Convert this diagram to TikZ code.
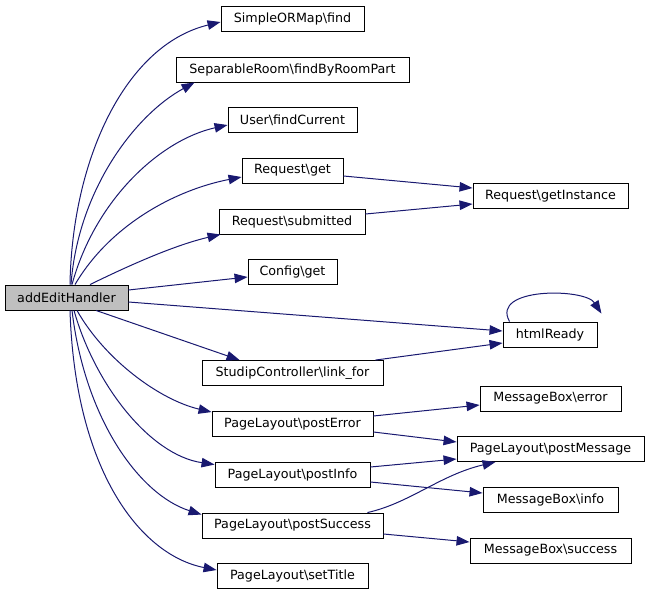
\documentclass[tikz,border=0pt]{standalone}
\usepackage{fontspec}
\setmainfont{DejaVu Sans}
\usetikzlibrary{arrows.meta}
\begin{document}
\begin{tikzpicture}[x=1pt,y=-1pt,
  box/.style={draw=black,line width=0.9pt,fill=white,inner sep=0pt,minimum height=25pt,
    font=\fontsize{12.7}{15}\selectfont},
  mainbox/.style={box,fill=black!25},
  edge/.style={draw={rgb,255:red,25;green,25;blue,112},line width=1pt,
    -{Triangle[length=13pt,width=9.5pt]}}]
\useasboundingbox (0,0) rectangle (649,595);
\node[mainbox,minimum width=123pt] (main) at (66.5,297.5) {addEditHandler};
\node[box,minimum width=143pt] (sorm) at (292.5,18.5) {SimpleORMap\textbackslash find};
\node[box,minimum width=233pt] (sep) at (292.5,69.5) {SeparableRoom\textbackslash findByRoomPart};
\node[box,minimum width=129pt] (user) at (292.5,120) {User\textbackslash findCurrent};
\node[box,minimum width=101pt] (rget) at (292.5,170.5) {Request\textbackslash get};
\node[box,minimum width=146pt] (rsub) at (292,221.5) {Request\textbackslash submitted};
\node[box,minimum width=89pt] (cget) at (292.5,272) {Config\textbackslash get};
\node[box,minimum width=181pt] (link) at (292.5,373) {StudipController\textbackslash link\_for};
\node[box,minimum width=161pt] (perr) at (292.5,424) {PageLayout\textbackslash postError};
\node[box,minimum width=155pt] (pinfo) at (292.5,474.5) {PageLayout\textbackslash postInfo};
\node[box,minimum width=181pt] (psucc) at (292.5,525.5) {PageLayout\textbackslash postSuccess};
\node[box,minimum width=151pt] (ptitle) at (292.5,576) {PageLayout\textbackslash setTitle};
\node[box,minimum width=155pt] (rinst) at (550.5,196) {Request\textbackslash getInstance};
\node[box,minimum width=94pt] (html) at (550,334.5) {htmlReady};
\node[box,minimum width=141pt] (mberr) at (550.5,398.5) {MessageBox\textbackslash error};
\node[box,minimum width=187pt] (pmsg) at (550.5,449) {PageLayout\textbackslash postMessage};
\node[box,minimum width=135pt] (mbinfo) at (550.5,500) {MessageBox\textbackslash info};
\node[box,minimum width=161pt] (mbsucc) at (550.5,550.5) {MessageBox\textbackslash success};
% fan-out from main
\path[edge] ([xshift=3.5pt]main.north) .. controls (72,160) and (125,45) .. ([yshift=-3.5pt]sorm.west);
\path[edge] ([xshift=4.5pt]main.north) .. controls (78,190) and (135,115) .. ([xshift=19pt]sep.south west);
\path[edge] ([xshift=5.5pt]main.north) .. controls (95,200) and (160,140) .. ([yshift=-5pt]user.west);
\path[edge] ([xshift=8.5pt]main.north) .. controls (110,225) and (175,190) .. ([yshift=-6.5pt]rget.west);
\path[edge] ([xshift=23.5pt]main.north) .. controls (130,265) and (175,245) .. ([xshift=2pt]rsub.south west);
\path[edge] ([yshift=7.5pt]main.east) -- ([yshift=-5pt]cget.west);
\path[edge] ([yshift=-4.5pt]main.east) -- ([yshift=3.5pt]html.west);
\path[edge] ([xshift=29.5pt]main.south) -- ([xshift=38pt]link.north west);
\path[edge] ([xshift=10.5pt]main.south) .. controls (105,360) and (160,400) .. ([yshift=-1pt]perr.north west);
\path[edge] ([xshift=7.5pt]main.south) .. controls (95,385) and (150,455) .. ([yshift=-3pt]pinfo.north west);
\path[edge] ([xshift=5.5pt]main.south) .. controls (85,420) and (140,495) .. ([yshift=-2pt]psucc.north west);
\path[edge] ([xshift=3.5pt]main.south) .. controls (75,470) and (140,555) .. ([yshift=6pt]ptitle.west);
% right side
\path[edge] ([yshift=-5.5pt]rget.east) -- ([yshift=8pt]rinst.west);
\path[edge] ([yshift=7.5pt]rsub.east) -- ([yshift=-8pt]rinst.west);
\path[edge] ([xshift=-8pt]link.north east) -- ([yshift=-8.5pt]html.west);
\path[edge] ([xshift=7pt]html.north west) .. controls (490,287) and (585,288) .. ([xshift=4pt,yshift=8pt]html.north east);
\path[edge] ([yshift=8pt]perr.east) -- ([yshift=-6.5pt]mberr.west);
\path[edge] ([yshift=-8pt]perr.east) -- ([yshift=7pt]pmsg.west);
\path[edge] ([yshift=7.5pt]pinfo.east) -- ([yshift=-10pt]pmsg.west);
\path[edge] ([yshift=-7.5pt]pinfo.east) -- ([yshift=7pt]mbinfo.west);
\path[edge] ([xshift=-16pt]psucc.north east) .. controls (410,503) and (440,475) .. ([xshift=39pt]pmsg.south west);
\path[edge] ([yshift=-8.5pt]psucc.east) -- ([yshift=8.5pt]mbsucc.west);
\end{tikzpicture}
\end{document}
